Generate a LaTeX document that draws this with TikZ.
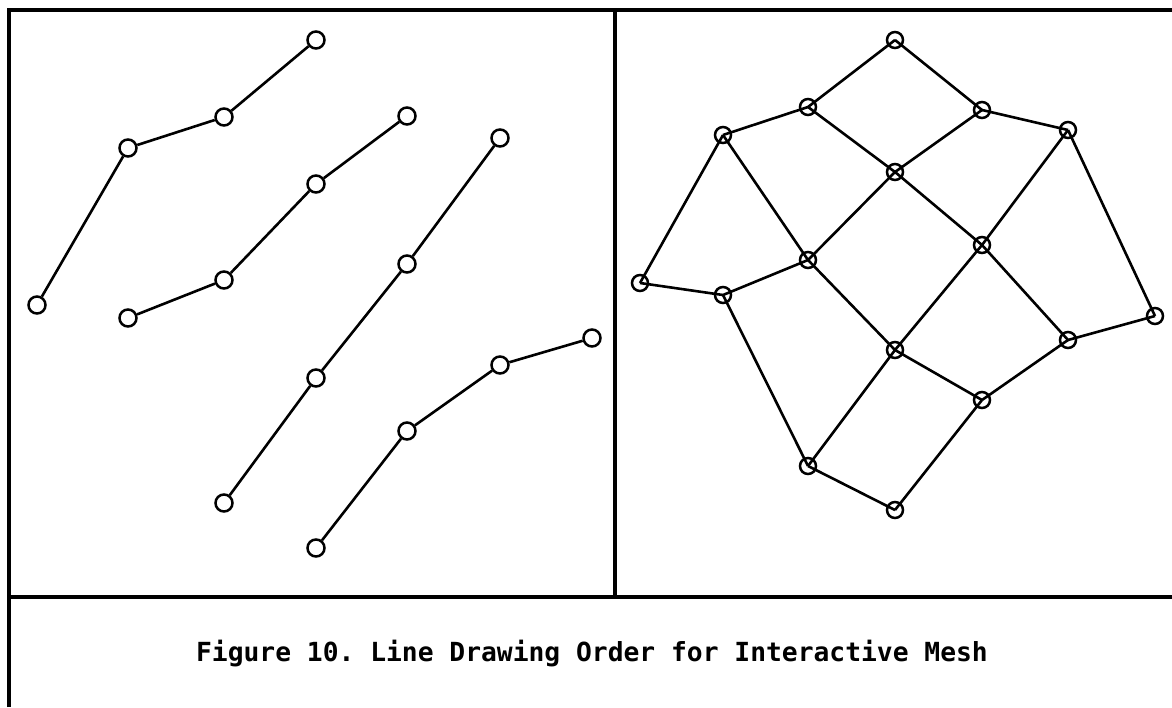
\documentclass[tikz,border=0pt]{standalone}
\usepackage{fontspec}
\setmonofont{DejaVu Sans Mono}
\usetikzlibrary{positioning}

\begin{document}
\begin{tikzpicture}[
  x=1pt, y=-1pt,
  pt/.style={draw, circle, line width=2.5pt, minimum size=17pt, inner sep=0pt},
  knot/.style={draw, circle, line width=2.5pt, minimum size=16pt, inner sep=0pt},
  link/.style={line width=2.6pt},
  frame/.style={line width=3.2pt}
]
  \useasboundingbox (0,0) rectangle (1172,707);
  % frame
  \draw[frame] (9,707) -- (9,10) -- (1172,10);
  \draw[frame] (9,597) -- (1172,597);
  \draw[frame] (615,10) -- (615,597);

  % left panel: separate polylines
  \node[pt] (a1) at (37,305)  {};
  \node[pt] (a2) at (128,148) {};
  \node[pt] (a3) at (224,117) {};
  \node[pt] (a4) at (316,40)  {};
  \node[pt] (b1) at (128,318) {};
  \node[pt] (b2) at (224,280) {};
  \node[pt] (b3) at (316,184) {};
  \node[pt] (b4) at (407,116) {};
  \node[pt] (c1) at (224,503) {};
  \node[pt] (c2) at (316,378) {};
  \node[pt] (c3) at (407,264) {};
  \node[pt] (c4) at (500,138) {};
  \node[pt] (d1) at (316,548) {};
  \node[pt] (d2) at (407,431) {};
  \node[pt] (d3) at (500,365) {};
  \node[pt] (d4) at (592,338) {};
  \foreach \r in {a,b,c,d}
    \foreach \i/\j in {1/2,2/3,3/4} \draw[link] (\r\i) -- (\r\j);

  % right panel: mesh
  \coordinate (m1)  at (895,40);
  \coordinate (m2)  at (808,107);
  \coordinate (m3)  at (982,110);
  \coordinate (m4)  at (723,135);
  \coordinate (m5)  at (895,172);
  \coordinate (m6)  at (1068,130);
  \coordinate (m7)  at (808,260);
  \coordinate (m8)  at (982,245);
  \coordinate (m9)  at (640,283);
  \coordinate (m10) at (723,295);
  \coordinate (m11) at (895,350);
  \coordinate (m12) at (1068,340);
  \coordinate (m13) at (1155,316);
  \coordinate (m14) at (982,400);
  \coordinate (m15) at (808,466);
  \coordinate (m16) at (895,510);
  \foreach \i/\j in {m1/m2,m1/m3,m2/m4,m2/m5,m3/m5,m3/m6,m4/m9,m4/m7,m5/m7,m5/m8,
                     m6/m8,m6/m13,m9/m10,m10/m7,m7/m11,m8/m11,m8/m12,m12/m13,
                     m10/m15,m11/m15,m11/m14,m12/m14,m15/m16,m14/m16}
    \draw[link] (\i) -- (\j);
  \foreach \k in {1,...,16} \node[knot] (k\k) at (m\k) {};

  % caption
  \node[anchor=base, font=\fontsize{26.3}{31}\selectfont\ttfamily\bfseries] (cap) at (592,661)
    {Figure 10. Line Drawing Order for Interactive Mesh};
\end{tikzpicture}
\end{document}
